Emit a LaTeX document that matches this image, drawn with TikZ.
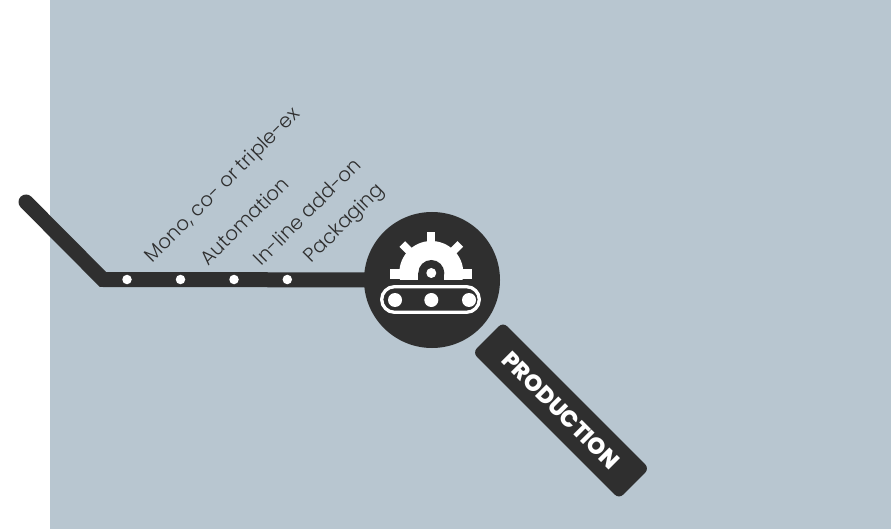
\documentclass[tikz,border=0pt]{standalone}
\usepackage{fontspec}
\newfontfamily\lightf{Poppins Light}
\newfontfamily\blackf{Poppins ExtraBold}
\definecolor{bgc}{HTML}{B8C6D0}
\definecolor{darkc}{HTML}{2F2F2F}
\tikzset{
  lab/.style={rotate=45,anchor=south west,inner sep=0pt,text=darkc,font=\lightf\fontsize{19.7}{20}\selectfont},
  dotn/.style={circle,fill=white,minimum size=9.5pt,inner sep=0pt},
  tooth/.style={fill=white}
}
\begin{document}
\begin{tikzpicture}[x=1pt,y=-1pt]
\useasboundingbox (0,0) rectangle (891,529);
\fill[bgc] (50,0) rectangle (891,529);
\coordinate (s) at (26,202);
\coordinate (k) at (103,279.5);
\node[circle,fill=darkc,minimum size=136pt,inner sep=0pt] (hub) at (432,280) {};
\draw[darkc,line width=15pt,line cap=round,miter limit=10] (s) -- (k) -- (hub.center);
\foreach \n/\x in {a/127,b/180.5,c/234,d/287.3}{\node[dotn] (\n) at (\x,279.5) {};}
\node[lab] (l1) at (156.5,267) {Mono, co- or triple-ex};
\node[lab] (l2) at (209,267) {Automation};
\node[lab] (l3) at (262,267) {In-line add-on};
\node[lab] (l4) at (315.5,267.5) {Packaging};
% gear
\begin{scope}[shift={(431.3,273)}]
\begin{scope}
\clip (-45,-45) rectangle (45,7);
\fill[white] (0,0) circle (32);
\end{scope}
\foreach \a in {90,45,135}{\fill[tooth,rotate=\a] (28,-4) rectangle (41,4);}
\fill[tooth] (-41,-3.5) rectangle (-28,6);
\fill[tooth] (28,-3.5) rectangle (41,6);
\fill[darkc] (0,0) circle (13);
\fill[darkc] (-13,0) rectangle (13,8);
\fill[white] (0,0) circle (5);
\end{scope}
% conveyor
\draw[white,line width=3.3pt,rounded corners=12.8pt,fill=darkc] (381.7,286.7) rectangle (479.3,312.3);
\foreach \n/\x in {p/395,q/431.3,r/469}{\node[circle,fill=white,minimum size=14pt,inner sep=0pt] (\n) at (\x,300) {};}
% label
\node[rotate=-45,fill=darkc,rounded corners=6pt,minimum width=207pt,minimum height=43pt,inner sep=0pt,text=white,font=\blackf\fontsize{23}{24}\selectfont] (prod) at (561,410.5) {PRODUCTION};
\end{tikzpicture}
\end{document}
